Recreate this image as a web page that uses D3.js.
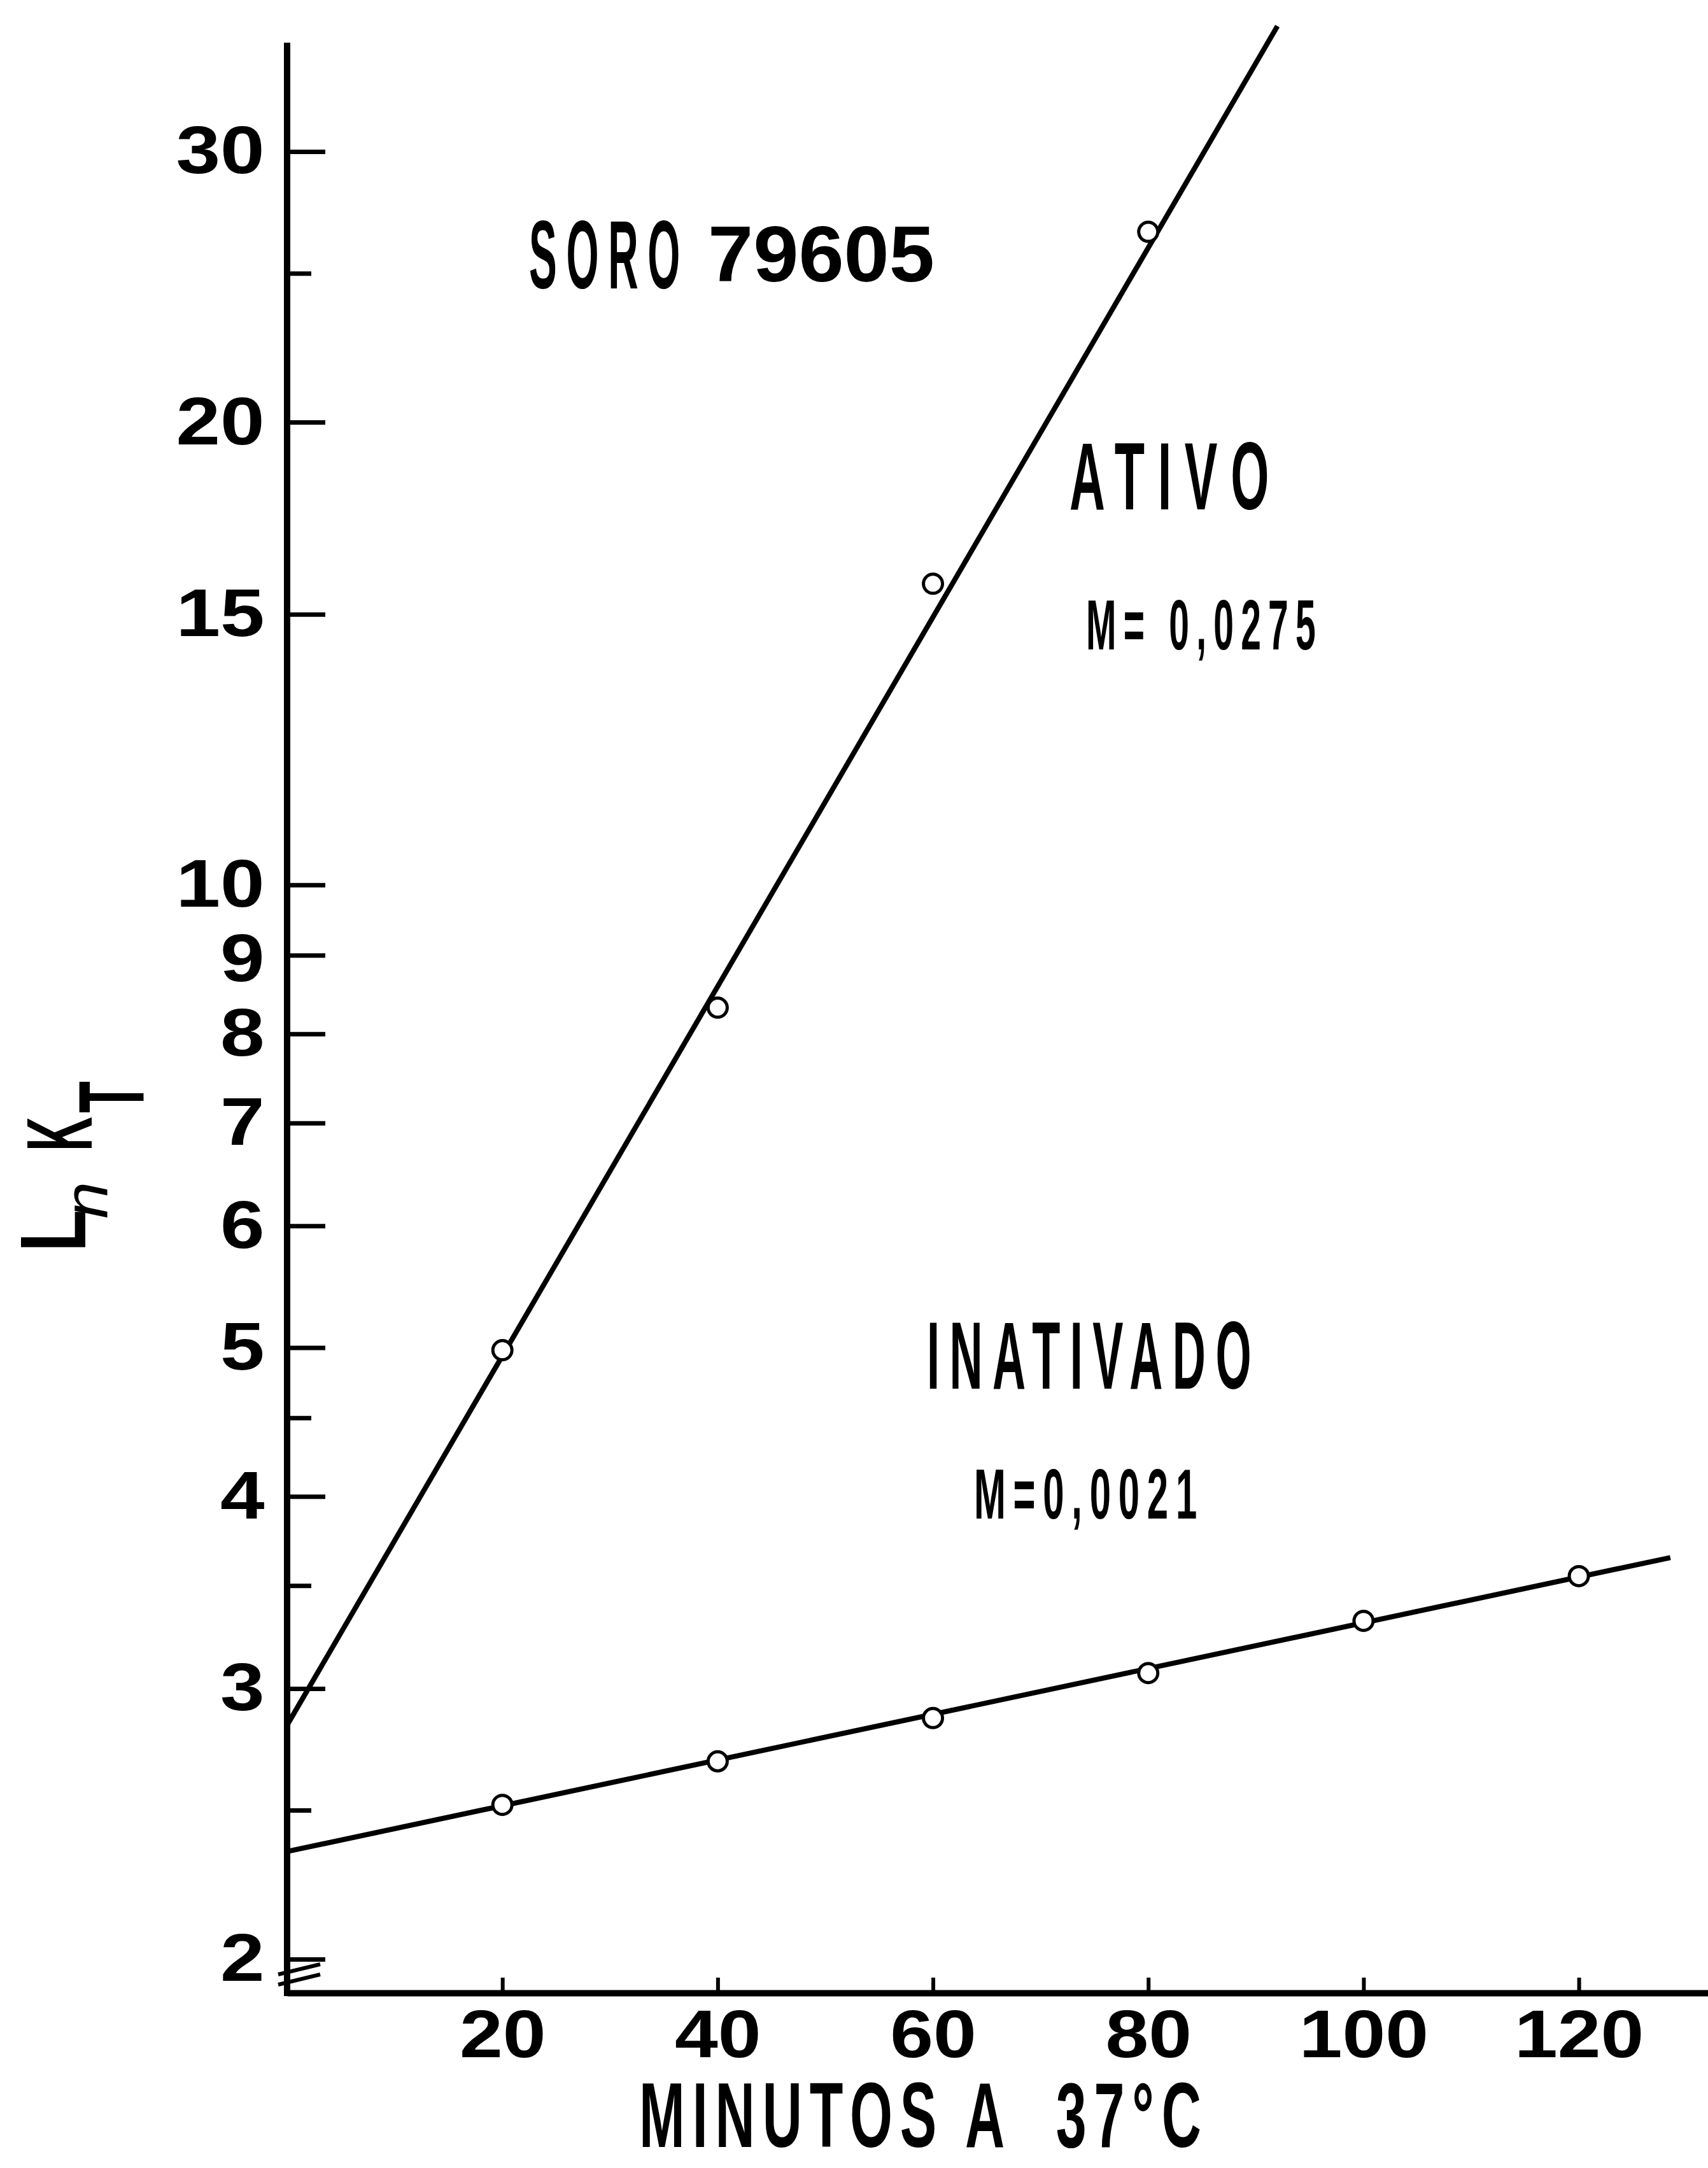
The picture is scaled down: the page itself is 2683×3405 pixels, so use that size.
<!DOCTYPE html>
<html>
<head>
<meta charset="utf-8">
<script src="https://cdn.jsdelivr.net/npm/d3@7"></script>
<style>
    body { margin: 0; background: #ffffff; }
    svg { display: block; background: #ffffff; }
    text { font-family: "Liberation Sans", Arial, Helvetica, sans-serif; fill: #000; }
</style>
</head>
<body>
<svg id="chart"></svg>
<script>
// values (K_T on a log axis, minutes at 37 C)
var ativoMinutes = [20, 40, 60, 80];
var ativoValues = [4.98, 8.32, 15.7, 26.6];
var inativadoMinutes = [20, 40, 60, 80, 100, 120];
var inativadoValues = [2.52, 2.69, 2.87, 3.07, 3.32, 3.55];

// ends of the two drawn regression lines
var ativoLineMinutes = [0, 92];
var ativoLineValues = [2.84, 36.2];
var inativadoLineMinutes = [0, 128.5];
var inativadoLineValues = [2.35, 3.65];

var xTicks = [20, 40, 60, 80, 100, 120];
var yTicksLabelled = [2, 3, 4, 5, 6, 7, 8, 9, 10, 15, 20, 30];
var yTicksBlank = [2.5, 3.5, 4.5, 25];

var dimensions = {
    width: 2683,
    height: 3405,
    axisX: 451,
    axisY: 3130,
    axisTop: 67
};

var svg = d3.select("#chart")
    .attr("width", dimensions.width)
    .attr("height", dimensions.height);

var xScale = d3.scaleLinear()
    .domain([0, 132])
    .range([dimensions.axisX, dimensions.width]);

var yScale = d3.scaleLog()
    .domain([2, 30])
    .range([3077, 238]);

// x axis, ticks pointing up into the plot
var xAxis = svg.append("g")
    .attr("transform", `translate(0,${dimensions.axisY})`)
    .call(d3.axisBottom(xScale)
        .tickValues(xTicks)
        .tickSizeInner(-24)
        .tickSizeOuter(0)
        .tickPadding(26));
xAxis.select(".domain").attr("stroke-width", 10);
xAxis.selectAll(".tick line").attr("stroke-width", 6);
xAxis.selectAll(".tick text")
    .attr("transform", "scale(1.15,1)")
    .style("font-size", "106px")
    .style("font-weight", "bold");

// y axis line (drawn by hand so it reaches above 30 and down to the x axis)
svg.append("line")
    .attr("x1", dimensions.axisX)
    .attr("x2", dimensions.axisX)
    .attr("y1", dimensions.axisTop)
    .attr("y2", dimensions.axisY + 5)
    .attr("stroke", "black")
    .attr("stroke-width", 10);

var yAxis = svg.append("g")
    .attr("transform", `translate(${dimensions.axisX},0)`)
    .call(d3.axisLeft(yScale)
        .tickValues(yTicksLabelled)
        .tickFormat(d3.format("d"))
        .tickSizeInner(-60)
        .tickSizeOuter(0)
        .tickPadding(30));
yAxis.select(".domain").remove();
yAxis.selectAll(".tick line").attr("stroke-width", 7);
yAxis.selectAll(".tick text")
    .attr("transform", "scale(1.18,1)")
    .attr("dy", d => d === 9 ? "0.38em" : "0.32em")
    .style("font-size", "106px")
    .style("font-weight", "bold");

var yAxisMinor = svg.append("g")
    .attr("transform", `translate(${dimensions.axisX},0)`)
    .call(d3.axisLeft(yScale)
        .tickValues(yTicksBlank)
        .tickFormat(() => "")
        .tickSizeInner(-38)
        .tickSizeOuter(0));
yAxisMinor.select(".domain").remove();
yAxisMinor.selectAll(".tick line").attr("stroke-width", 7);

// axis break marks under the "2" tick
var y2 = yScale(2);
[[24, 8], [40, 24]].forEach(function(o) {
    svg.append("line")
        .attr("x1", dimensions.axisX - 14)
        .attr("y1", y2 + o[0])
        .attr("x2", dimensions.axisX + 52)
        .attr("y2", y2 + o[1])
        .attr("stroke", "black")
        .attr("stroke-width", 6);
});

// regression lines
var line = d3.line()
    .x(d => xScale(d[0]))
    .y(d => yScale(d[1]));

svg.append("path")
    .datum(d3.zip(ativoLineMinutes, ativoLineValues))
    .attr("d", line)
    .attr("fill", "none")
    .attr("stroke", "black")
    .attr("stroke-width", 8);

svg.append("path")
    .datum(d3.zip(inativadoLineMinutes, inativadoLineValues))
    .attr("d", line)
    .attr("fill", "none")
    .attr("stroke", "black")
    .attr("stroke-width", 8);

// data points, open circles
var points = d3.zip(ativoMinutes, ativoValues).concat(d3.zip(inativadoMinutes, inativadoValues));
svg.selectAll("circle.pt")
    .data(points)
    .enter()
    .append("circle")
    .attr("class", "pt")
    .attr("cx", d => xScale(d[0]))
    .attr("cy", d => yScale(d[1]))
    .attr("r", 15)
    .attr("fill", "white")
    .attr("stroke", "black")
    .attr("stroke-width", 5);

// condensed lettering: draw at natural size, then squeeze horizontally to the width in the picture
function squeeze(sel, x, y, width) {
    var natural = sel.node().getComputedTextLength();
    sel.attr("transform", `translate(${x},${y}) scale(${width / natural},1)`);
    return sel;
}

function label(parent, txt, x, y, size, width, spacing, weight) {
    var t = parent.append("text")
        .attr("x", 0)
        .attr("y", 0)
        .style("font-size", size + "px")
        .style("font-weight", weight || "bold")
        .style("letter-spacing", (spacing || 0) + "px")
        .style("white-space", "pre")
        .text(txt);
    return squeeze(t, x, y, width);
}

label(svg, "SORO", 831, 453, 152, 252, 34);
label(svg, "79605", 1112, 442, 124, 356, 0);
label(svg, "ATIVO", 1680, 800, 150, 334, 40);
label(svg, "M= 0,0275", 1706, 1020, 112, 372, 22);
label(svg, "INATIVADO", 1456, 2181, 150, 525, 32);
label(svg, "M=0,0021", 1530, 2385, 112, 362, 22);
label(svg, "MINUTOS A  37°C", 1004, 3372, 144, 895, 20);

// y axis title: Ln K_T, rotated
var yTitle = svg.append("g")
    .attr("transform", "translate(134,1966) rotate(-90)");

var titleParts = [
    {t: "L", x: 0, y: 0, size: 146, w: 66, italic: false},
    {t: "n", x: 52, y: 34, size: 96, w: 58, italic: true},
    {t: "K", x: 158, y: 10, size: 146, w: 54, italic: false},
    {t: "T", x: 218, y: 92, size: 146, w: 50, italic: false}
];
titleParts.forEach(function(p) {
    label(yTitle, p.t, p.x, p.y, p.size, p.w, 0, p.italic ? "normal" : "bold")
        .style("font-style", p.italic ? "italic" : "normal");
});
</script>
</body>
</html>
